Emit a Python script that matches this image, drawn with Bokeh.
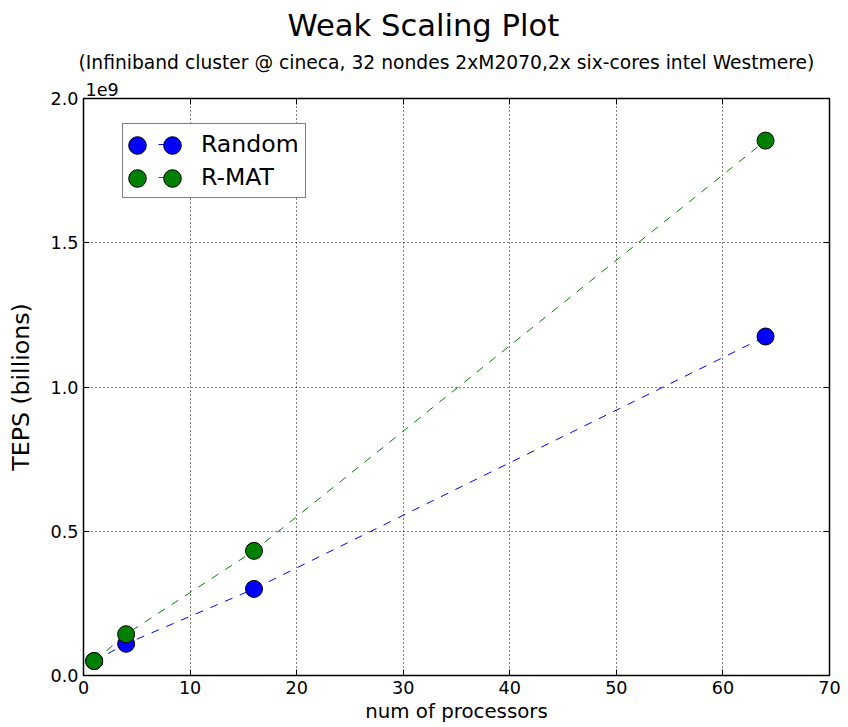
from bokeh.plotting import figure
from bokeh.models import (Range1d, LinearAxis, FixedTicker, Legend,
                          LegendItem, Title)
from bokeh.embed import file_html
from bokeh.resources import INLINE

# number of processors used in each run
processors = [1, 4, 16, 64]
# traversed edges per second for each graph type
teps_random = [0.05e9, 0.11e9, 0.30e9, 1.175e9]
teps_rmat = [0.05e9, 0.143e9, 0.432e9, 1.854e9]

x_ticks = [0, 10, 20, 30, 40, 50, 60, 70]
y_ticks = [0, 0.5e9, 1.0e9, 1.5e9, 2.0e9]
y_tick_labels = ["0.0", "0.5", "1.0", "1.5", "2.0"]

FONT = "DejaVu Sans"
BLUE = "#0000ff"
GREEN = "#008000"
NAN = float("nan")

p = figure(width=848, height=727, output_backend="svg", toolbar_location=None,
           title=None,
           x_range=Range1d(0, 70), y_range=Range1d(0, 2.0e9),
           min_border_left=83, min_border_right=19,
           min_border_top=98, min_border_bottom=52,
           x_axis_label="num of processors", y_axis_label="TEPS (billions)")
p.background_fill_color = "white"
p.border_fill_color = "white"
p.outline_line_color = "black"
p.outline_line_width = 1.5

xticker = FixedTicker(ticks=x_ticks)
yticker = FixedTicker(ticks=y_ticks)
p.xaxis.ticker = xticker
p.yaxis.ticker = yticker
p.yaxis.major_label_overrides = {t: s for t, s in zip(y_ticks, y_tick_labels)}


def style_axis(ax):
    ax.axis_line_color = None
    ax.major_tick_in = 6
    ax.major_tick_out = 0
    ax.major_tick_line_color = "black"
    ax.major_tick_line_width = 1
    ax.minor_tick_line_color = None
    ax.major_label_text_font = FONT
    ax.major_label_text_font_size = "17.6px"
    ax.major_label_text_color = "black"
    ax.axis_label_text_font = FONT
    ax.axis_label_text_font_style = "normal"
    ax.axis_label_text_color = "black"


for ax in p.xaxis + p.yaxis:
    style_axis(ax)
p.xaxis.major_label_standoff = 5
p.xaxis.axis_label_standoff = 3
p.xaxis.axis_label_text_font_size = "19.8px"
p.yaxis.major_label_standoff = 5
p.yaxis.axis_label_standoff = 13
p.yaxis.axis_label_text_font_size = "23.6px"

# tick marks on the top and right edges of the frame, without labels
top_axis = LinearAxis(ticker=xticker)
right_axis = LinearAxis(ticker=yticker)
for ax in (top_axis, right_axis):
    style_axis(ax)
    ax.major_label_text_color = None
    ax.major_label_text_font_size = "1px"
    ax.major_label_standoff = 0
p.add_layout(top_axis, "above")
p.add_layout(right_axis, "right")

# headings stacked above the frame (nearest first)
p.add_layout(Title(text="1e9", align="left", offset=2, standoff=6,
                   text_font=FONT, text_font_size="17.6px",
                   text_font_style="normal", text_color="black"), "above")
p.add_layout(Title(text="(Infiniband cluster @ cineca, 32 nondes 2xM2070,2x six-cores intel Westmere)",
                   align="left", offset=-5, standoff=9,
                   text_font=FONT, text_font_size="18.7px",
                   text_font_style="normal", text_color="black"), "above")
p.add_layout(Title(text="Weak Scaling Plot", align="left", offset=204, standoff=5,
                   text_font=FONT, text_font_size="30.6px",
                   text_font_style="normal", text_color="black"), "above")

for g, t in ((p.xgrid, xticker), (p.ygrid, yticker)):
    g.ticker = t
    g.grid_line_color = "black"
    g.grid_line_dash = "1 3"
    g.grid_line_width = 1

p.line(processors, teps_random, line_color=BLUE, line_width=1, line_dash="8 8")
p.line(processors, teps_rmat, line_color=GREEN, line_width=1, line_dash="8 8")
dots_random = p.ellipse(processors, teps_random, width=17, height=17,
                        width_units="screen", height_units="screen",
                        fill_color=BLUE, line_color="black", line_width=1)
dots_rmat = p.ellipse(processors, teps_rmat, width=17, height=17,
                      width_units="screen", height_units="screen",
                      fill_color=GREEN, line_color="black", line_width=1)

# legend key strokes: only the short dash between the two markers shows
key_random = p.line([NAN], [NAN], line_color=BLUE, line_width=1,
                    line_dash="0 29 8 200")
key_rmat = p.line([NAN], [NAN], line_color=GREEN, line_width=1,
                  line_dash="0 29 8 200")

legend_box = Legend(
    items=[LegendItem(label="Random", renderers=[key_random]),
           LegendItem(label="R-MAT", renderers=[key_rmat])],
    location=(39, 477), glyph_width=60, glyph_height=28, label_height=28,
    label_standoff=12, padding=6, spacing=5, margin=0,
    label_text_font=FONT, label_text_font_size="23.6px",
    label_text_color="black", label_text_baseline="middle",
    border_line_color="black", border_line_width=1.5,
    background_fill_color="white", background_fill_alpha=1.0)
p.add_layout(legend_box)

# two marker columns drawn over the legend box
for x_loc in (42.5, 78):
    markers = Legend(
        items=[LegendItem(label="", renderers=[dots_random]),
               LegendItem(label="", renderers=[dots_rmat])],
        location=(x_loc, 483), glyph_width=22, glyph_height=28,
        label_height=28, label_standoff=0, padding=0, spacing=5, margin=0,
        label_text_color=None, border_line_color=None,
        background_fill_alpha=0.0)
    p.add_layout(markers)

open("out.html", "w").write(file_html(p, INLINE))
